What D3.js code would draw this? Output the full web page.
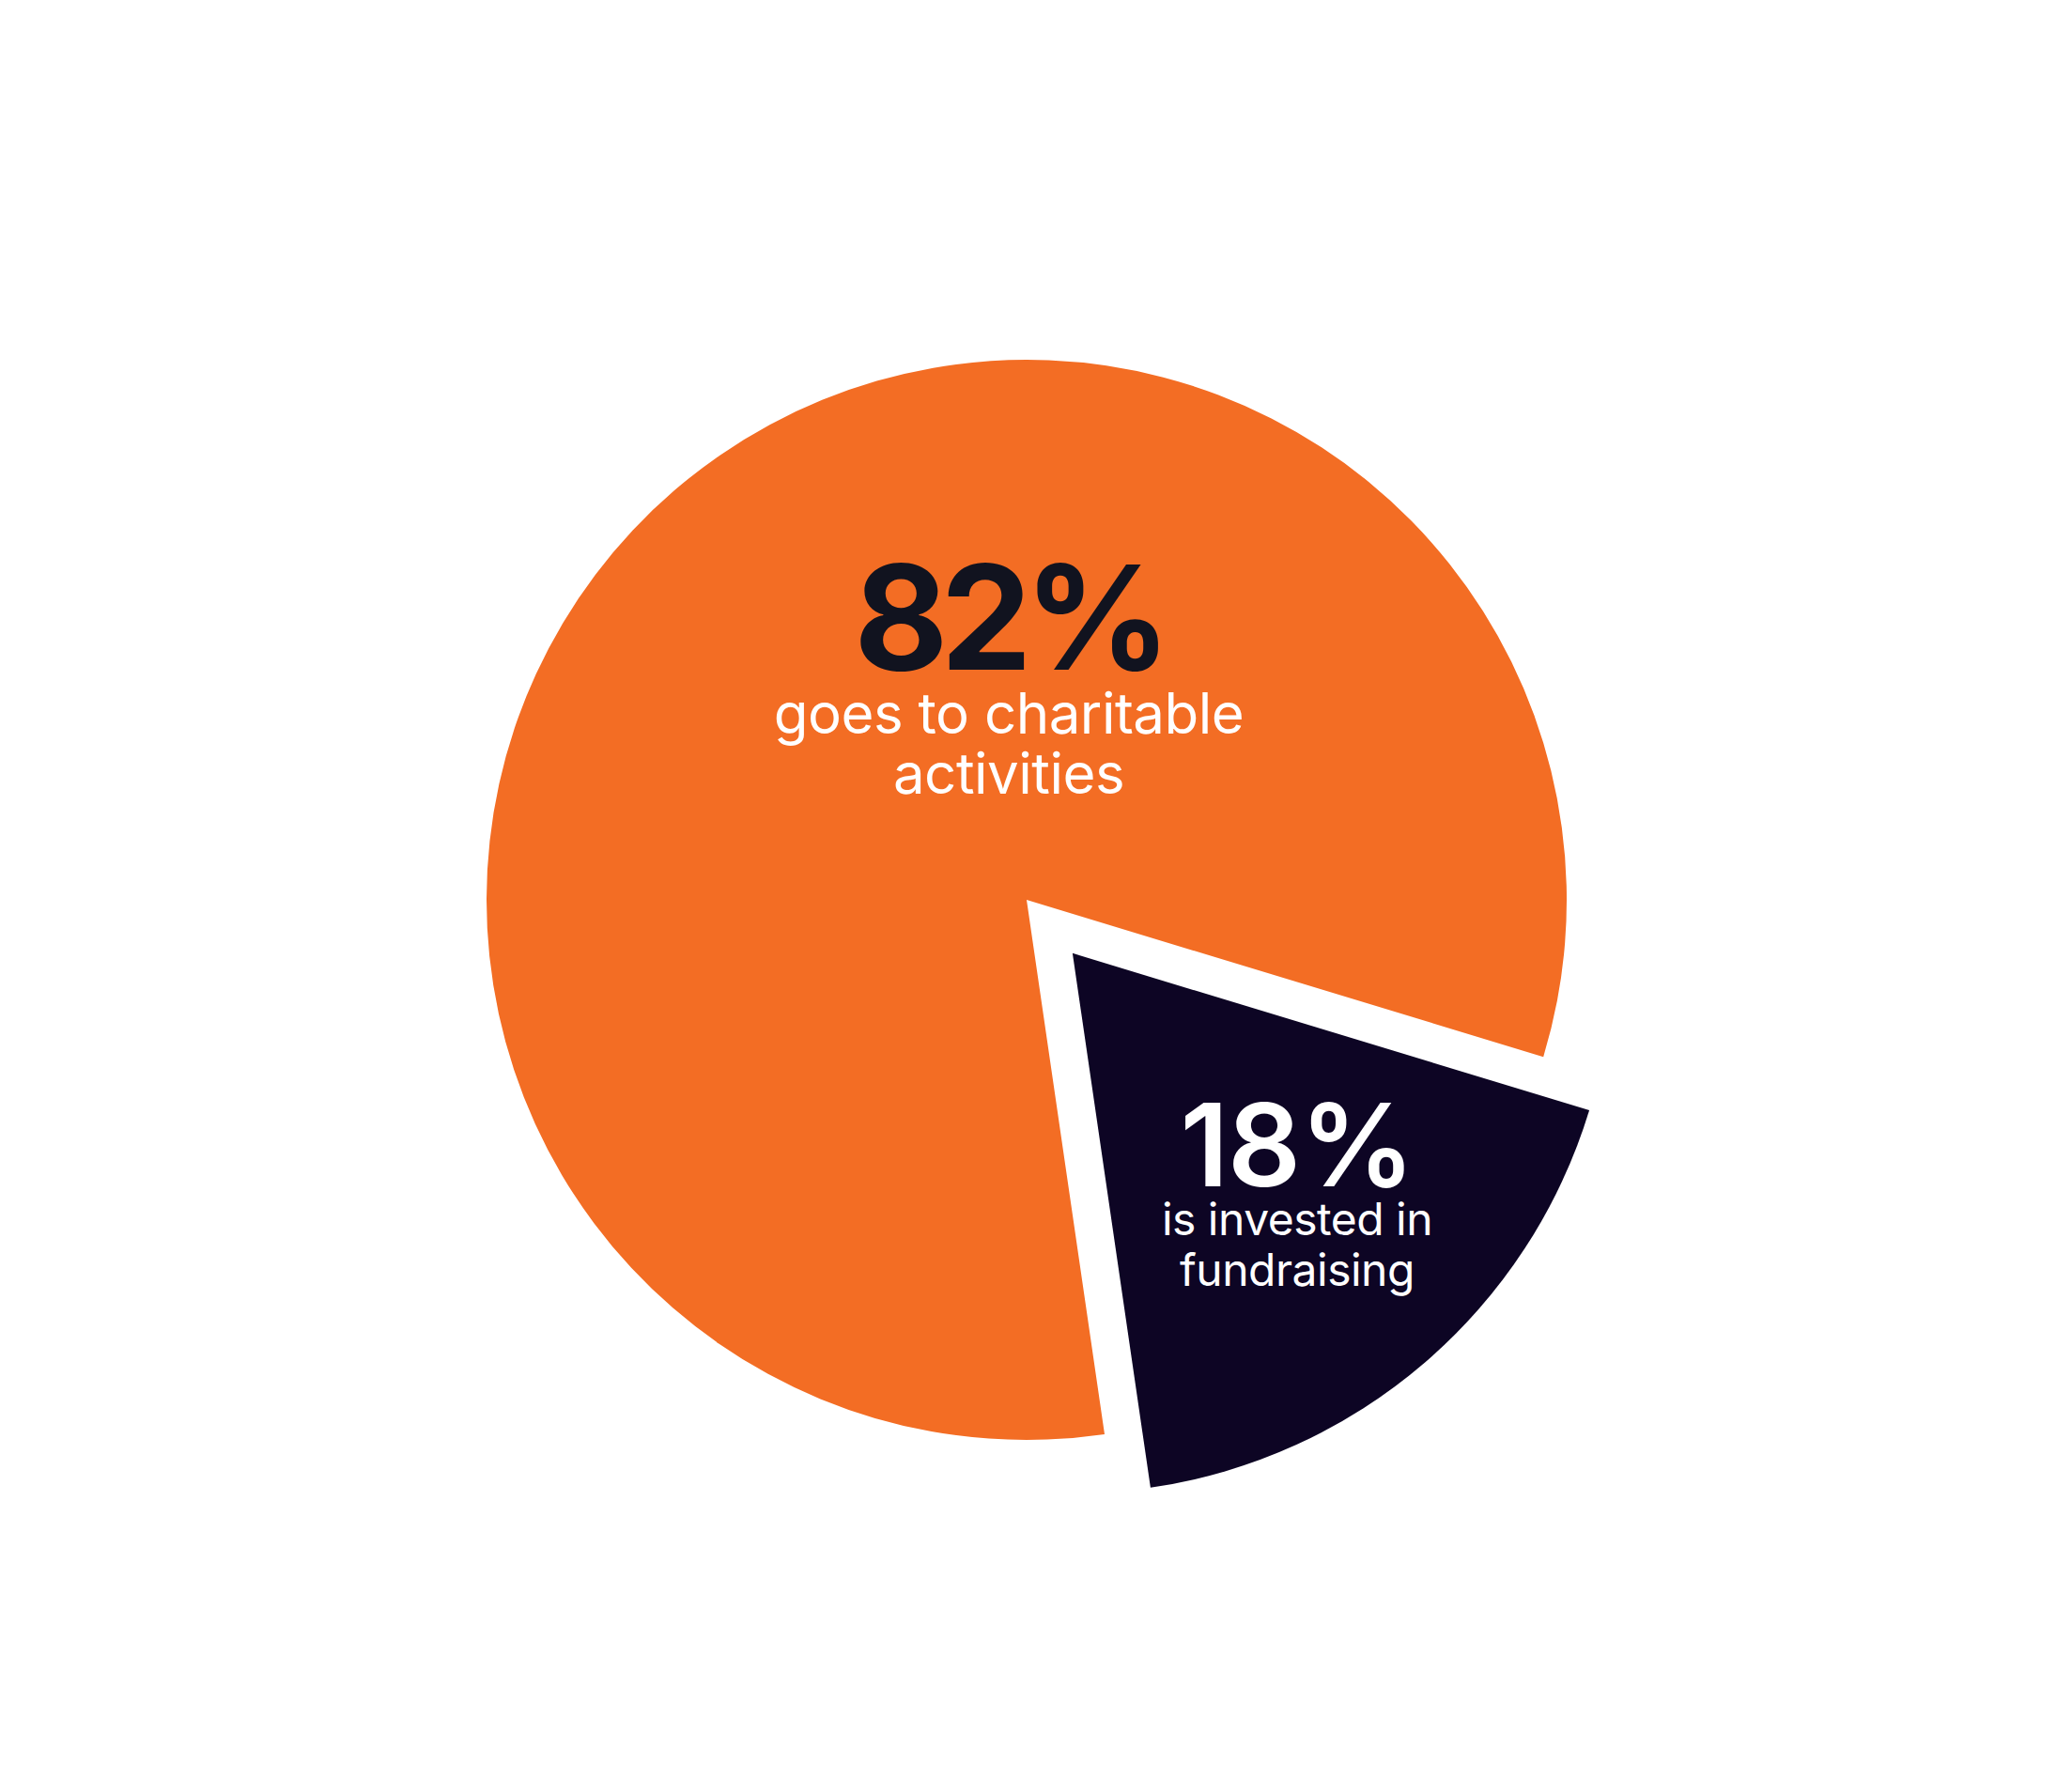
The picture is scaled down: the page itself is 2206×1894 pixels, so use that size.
<!DOCTYPE html>
<html>
<head>
<meta charset="utf-8">
<script src="https://cdn.jsdelivr.net/npm/d3@7"></script>
<style>
  body { margin: 0; background: #fff; }
</style>
</head>
<body>
<div id="chart-container"></div>
<script>
//Chart data

const categories = ["Charitable activities", "Fundraising"];
const shares = [82, 18];
const valueLabels = ["82%", "18%"];
const captions = [["goes to charitable", "activities"], ["is invested in", "fundraising"]];

//Chart dimensions and layout constants

const width = 2206;
const height = 1894;
const center = { x: 1093, y: 958 };
const radius = 575;
const startDeg = 171.7;     //orange slice starts just left of 6 o'clock
const explode = [0, 75];    //how far each slice is pulled out
const colors = ["#F36D24", "#0D0524"];
const numberColors = ["#11131F", "#FFFFFF"];

//label anchors relative to pie center, with font styles for each slice
const labelStyle = [
  { dx: -19, dy: -245, numSize: 154, numWeight: 700, numSpacing: -8, capSize: 60, capGap: 68, lineGap: 64 },
  { dx: 288, dy: 305, numSize: 122, numWeight: 600, numSpacing: -1, capSize: 48, capGap: 52, lineGap: 54 }
];

const svg = d3.select("#chart-container")
  .append("svg")
  .attr("width", width)
  .attr("height", height);

const data = categories.map((c, i) => ({ name: c, value: shares[i], i: i }));

const pie = d3.pie()
  .sort(null)
  .value((d) => d.value)
  .startAngle(startDeg * Math.PI / 180)
  .endAngle(startDeg * Math.PI / 180 + 2 * Math.PI);

const arc = d3.arc().innerRadius(0).outerRadius(radius);

const arcs = pie(data);

//offset for exploded slice along its mid angle
function shift(d) {
  const a = (d.startAngle + d.endAngle) / 2;
  const off = explode[d.data.i];
  return [off * Math.sin(a), -off * Math.cos(a)];
}

const g = svg.append("g")
  .attr("transform", `translate(${center.x},${center.y})`);

g.selectAll("path.slice")
  .data(arcs)
  .join("path")
  .attr("class", "slice")
  .attr("d", arc)
  .attr("fill", (d) => colors[d.data.i])
  .attr("transform", (d) => `translate(${shift(d)})`);

//Labels

const labels = g.selectAll("g.label")
  .data(arcs)
  .join("g")
  .attr("class", "label")
  .attr("transform", (d) => {
    const s = labelStyle[d.data.i];
    return `translate(${s.dx},${s.dy})`;
  })
  .style("font-family", "Inter, 'Noto Sans', sans-serif")
  .attr("text-anchor", "middle");

labels.append("text")
  .attr("y", 0)
  .style("font-size", (d) => labelStyle[d.data.i].numSize + "px")
  .style("font-weight", (d) => labelStyle[d.data.i].numWeight)
  .style("letter-spacing", (d) => labelStyle[d.data.i].numSpacing + "px")
  .attr("fill", (d) => numberColors[d.data.i])
  .text((d) => valueLabels[d.data.i]);

labels.each(function(d) {
  const s = labelStyle[d.data.i];
  d3.select(this).selectAll("text.cap")
    .data(captions[d.data.i])
    .join("text")
    .attr("class", "cap")
    .attr("y", (t, j) => s.capGap + j * s.lineGap)
    .style("font-size", s.capSize + "px")
    .style("font-weight", 400)
    .style("letter-spacing", "-0.5px")
    .attr("fill", "#FFFFFF")
    .text((t) => t);
});
</script>
</body>
</html>
